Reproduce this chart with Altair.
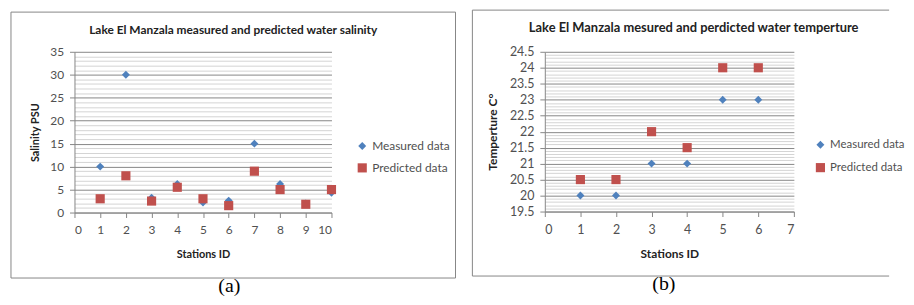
import altair as alt
import pandas as pd

# ---- data ----
series_names = ["Measured data", "Predicted data"]

sal_stations = [1, 2, 3, 4, 5, 6, 7, 8, 9, 10]
sal_measured = [10, 30, 3.2, 6.2, 2.2, 2.6, 15, 6.2, 2, 4.3]
sal_predicted = [3, 8, 2.5, 5.5, 3, 1.5, 9, 5, 1.8, 5]

tmp_stations = [1, 2, 3, 4, 5, 6]
tmp_measured = [20, 20, 21, 21, 23, 23]
tmp_predicted = [20.5, 20.5, 22, 21.5, 24, 24]

sal_major = [0, 5, 10, 15, 20, 25, 30, 35]
tmp_major = [19.5, 20, 20.5, 21, 21.5, 22, 22.5, 23, 23.5, 24, 24.5]


def long_df(stations, measured, predicted):
    rows = []
    for s, v in zip(stations, measured):
        rows.append({"station": s, "value": v, "series": series_names[0]})
    for s, v in zip(stations, predicted):
        rows.append({"station": s, "value": v, "series": series_names[1]})
    return pd.DataFrame(rows)


sal_df = long_df(sal_stations, sal_measured, sal_predicted)
tmp_df = long_df(tmp_stations, tmp_measured, tmp_predicted)

sal_minor = [v for v in range(1, 35) if v % 5 != 0]
tmp_minor = [v / 10 for v in range(196, 245) if v % 5 != 0]

FONT = "Lato"
GRAY = "#868686"
TXT = "#505050"
one = pd.DataFrame({"k": [0]})


def panel(df, xdom, xticks, ydom, ymajor, yminor, ytitle, title, caption,
          W, H, frame, title_xy, cap_xy, leg_xy, ytp, legfs, titlefs, atfs, lblfs):
    xscale = alt.Scale(domain=xdom, nice=False, zero=False)
    yscale = alt.Scale(domain=ydom, nice=False, zero=False)

    minor = alt.Chart(df).mark_point(opacity=0).encode(
        y=alt.Y("value:Q", scale=yscale,
                axis=alt.Axis(orient="right", values=yminor, grid=True,
                              gridColor="#d4d4d4", gridWidth=1, labels=False,
                              ticks=False, domain=False, title=None))
    )

    pts = alt.Chart(df).mark_point(filled=True, opacity=1, strokeWidth=0).encode(
        x=alt.X("station:Q", scale=xscale,
                axis=alt.Axis(values=xticks, grid=False, title="Stations ID",
                              domainColor=GRAY, tickColor=GRAY, tickSize=5,
                              labelFont=FONT, labelFontSize=lblfs, labelColor=TXT,
                              labelPadding=7, titleFont=FONT, titleFontSize=atfs,
                              titleFontWeight="bold", titleColor="#222",
                              titlePadding=13)),
        y=alt.Y("value:Q", scale=yscale,
                axis=alt.Axis(orient="left", values=ymajor, grid=True,
                              gridColor=GRAY, format="~g",
                              domainColor=GRAY, tickColor=GRAY, tickSize=5,
                              labelFont=FONT, labelFontSize=lblfs, labelColor=TXT,
                              labelPadding=6, title=ytitle, titleFont=FONT,
                              titleFontSize=atfs, titleFontWeight="bold",
                              titleColor="#222", titlePadding=ytp)),
        color=alt.Color("series:N",
                        scale=alt.Scale(domain=series_names,
                                        range=["#4F81BD", "#C0504D"]),
                        legend=alt.Legend(title=None, orient="none",
                                          legendX=leg_xy[0], legendY=leg_xy[1],
                                          labelFont=FONT, labelFontSize=legfs,
                                          labelColor=TXT, symbolSize=70,
                                          symbolStrokeWidth=0, rowPadding=10,
                                          padding=0, labelOffset=4)),
        shape=alt.Shape("series:N",
                        scale=alt.Scale(domain=series_names,
                                        range=["diamond", "square"])),
        size=alt.Size("series:N",
                      scale=alt.Scale(domain=series_names, range=[64, 85]),
                      legend=None),
    )

    x0, x1, y0, y1, right_edge = frame
    layers = [minor, pts]
    if right_edge:
        layers.append(alt.Chart(one).mark_rect(fill="transparent", stroke=GRAY,
                                               strokeWidth=1).encode(
            x=alt.value(x0), x2=alt.value(x1), y=alt.value(y0), y2=alt.value(y1)))
    else:
        for a, b, c, d in [(x0, x1, y0, y0), (x0, x1, y1, y1), (x0, x0, y0, y1)]:
            layers.append(alt.Chart(one).mark_rule(color=GRAY, strokeWidth=1).encode(
                x=alt.value(a), x2=alt.value(b), y=alt.value(c), y2=alt.value(d)))

    layers.append(alt.Chart(one).mark_text(text=title, font=FONT, fontSize=titlefs,
                                           fontWeight="bold", color="#222",
                                           baseline="middle", align="center").encode(
        x=alt.value(title_xy[0]), y=alt.value(title_xy[1])))
    layers.append(alt.Chart(one).mark_text(text=caption, font="Liberation Serif",
                                           fontSize=20, color="#000",
                                           baseline="middle", align="center").encode(
        x=alt.value(cap_xy[0]), y=alt.value(cap_xy[1])))

    return alt.layer(*layers).resolve_axis(y="independent").properties(
        width=W, height=H)


left = panel(sal_df, [0, 10], list(range(0, 11)), [0, 35], sal_major, sal_minor,
             "Salinity PSU",
             "Lake El Manzala  measured and predicted water salinity", "(a)",
             259, 162, (-64, 384, -40, 228, True), (160, -22), (156, 236),
             (284, 89), 9, 12, 12, 11, 12)

right = panel(tmp_df, [0, 7], list(range(0, 8)), [19.5, 24.5], tmp_major, tmp_minor,
              "Temperture C°",
              "Lake El Manzala mesured and perdicted water temperture", "(b)",
              251, 161, (-73, 347, -42, 226, False), (150, -24), (120, 234),
              (272, 88), 10, 11.5, 13, 12, 12.5)

chart = alt.hconcat(left, right, spacing=15).resolve_scale(
    x="independent", y="independent", color="independent",
    shape="independent", size="independent").properties(
    padding={"left": 2, "top": 0, "right": 0, "bottom": 0},
    background="white",
).configure_view(stroke="transparent")

chart.save("out.html", embed_options={"renderer": "svg", "actions": False})
